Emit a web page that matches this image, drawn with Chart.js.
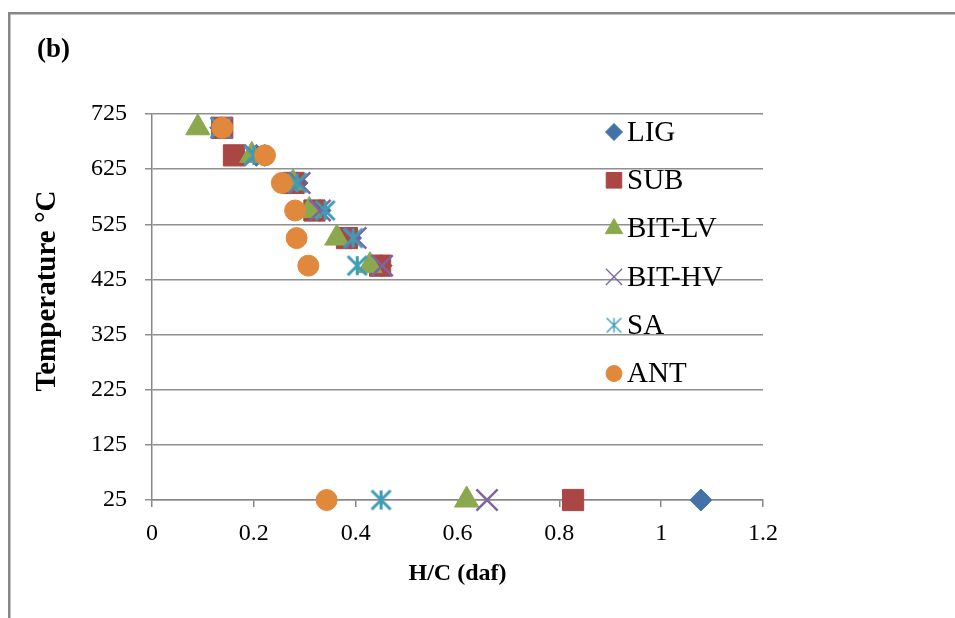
<!DOCTYPE html>
<html>
<head>
<meta charset="utf-8">
<script src="https://cdn.jsdelivr.net/npm/chart.js@4/dist/chart.umd.min.js"></script>
<style>
    body { margin: 0; background: #fff; }
    #wrap { width: 955px; height: 618px; }
</style>
</head>
<body>
<div id="wrap"><canvas id="myChart" width="955" height="618"></canvas></div>
<script>
// temperatures (ºC) shared by every sample
const Temps = [700, 650, 600, 550, 500, 450, 25];

// H/C (daf) per sample at each temperature
const LIG = [0.135, 0.205, 0.285, 0.33, 0.39, 0.45, 1.078];
const SUB = [0.138, 0.161, 0.278, 0.319, 0.383, 0.448, 0.827];
const BIT_LV = [0.09, 0.196, 0.277, 0.309, 0.363, 0.428, 0.618];
const BIT_HV = [0.136, 0.202, 0.29, 0.33, 0.40, 0.452, 0.658];
const SA = [0.135, 0.20, 0.285, 0.34, 0.395, 0.403, 0.45];
const ANT = [0.138, 0.222, 0.255, 0.281, 0.284, 0.307, 0.343];

const Labels = ['LIG', 'SUB', 'BIT-LV', 'BIT-HV', 'SA', 'ANT'];
const YTicks = [25, 125, 225, 325, 425, 525, 625, 725];

const FONT = "'Liberation Serif', 'Times New Roman', serif";

// asterisk marker: vertical stroke plus an X
function asterisk(size, lw, color) {
    const c = document.createElement('canvas');
    c.width = size; c.height = size;
    const g = c.getContext('2d');
    const m = lw / 2 + 0.5;
    g.strokeStyle = color;
    g.lineWidth = lw;
    g.beginPath();
    g.moveTo(size / 2, m); g.lineTo(size / 2, size - m);
    g.moveTo(m, m); g.lineTo(size - m, size - m);
    g.moveTo(size - m, m); g.lineTo(m, size - m);
    g.stroke();
    return c;
}

const colors = ['#4472a8', '#aa4644', '#8ba84f', '#7e65a0', '#3e9cb6', '#e0883c'];
const series = [LIG, SUB, BIT_LV, BIT_HV, SA, ANT];
const styles = [
    { pointStyle: 'rectRot', pointRadius: 11, borderWidth: 1 },
    { pointStyle: 'rect', pointRadius: 15, borderWidth: 1 },
    { pointStyle: 'triangle', pointRadius: 14, borderWidth: 1 },
    { pointStyle: 'crossRot', pointRadius: 15, borderWidth: 2.5 },
    { pointStyle: asterisk(23, 3, colors[4]), pointRadius: 11, borderWidth: 3 },
    { pointStyle: 'circle', pointRadius: 10.5, borderWidth: 1 }
];
// smaller markers for the key
const keyStyles = [
    { pointStyle: 'rectRot', radius: 8.5, borderWidth: 1 },
    { pointStyle: 'rect', radius: 11, borderWidth: 1 },
    { pointStyle: 'triangle', radius: 10, borderWidth: 1 },
    { pointStyle: 'crossRot', radius: 11.5, borderWidth: 1.3 },
    { pointStyle: asterisk(17, 1.4, colors[4]), radius: 8, borderWidth: 1 },
    { pointStyle: 'circle', radius: 8, borderWidth: 1 }
];

const datasets = Labels.map((name, i) => ({
    label: name,
    data: series[i].map((v, j) => ({ x: v, y: Temps[j] })),
    backgroundColor: colors[i],
    borderColor: colors[i],
    pointStyle: styles[i].pointStyle,
    pointRadius: styles[i].pointRadius,
    pointHoverRadius: styles[i].pointRadius,
    pointBorderWidth: styles[i].borderWidth,
    clip: false,
    order: Labels.length - i
}));

// frame, panel letter, y title and the key inside the plot
const decor = {
    id: 'decor',
    beforeDraw(chart) {
        const ctx = chart.ctx;
        ctx.save();
        ctx.fillStyle = '#878787';
        ctx.fillRect(8, 12, 947, 2.5);
        ctx.fillRect(8, 12, 2.5, 606);
        ctx.fillStyle = '#000';
        ctx.font = 'bold 27px ' + FONT;
        ctx.textBaseline = 'middle';
        ctx.fillText('(b)', 37, 50);
        ctx.translate(48, 291);
        ctx.rotate(-Math.PI / 2);
        ctx.textAlign = 'center';
        ctx.font = 'bold 29px ' + FONT;
        ctx.fillText('Temperature °C', 0, 0);
        ctx.restore();
    },
    afterDraw(chart) {
        const ctx = chart.ctx;
        ctx.save();
        chart.data.datasets.forEach((ds, i) => {
            const y = 132 + i * 48.3;
            ctx.fillStyle = ds.backgroundColor;
            ctx.strokeStyle = ds.borderColor;
            ctx.lineWidth = keyStyles[i].borderWidth;
            Chart.helpers.drawPoint(ctx, {
                pointStyle: keyStyles[i].pointStyle,
                radius: keyStyles[i].radius,
                rotation: 0,
                borderWidth: keyStyles[i].borderWidth
            }, 614, y);
            ctx.fillStyle = '#000';
            ctx.font = '29px ' + FONT;
            ctx.textBaseline = 'middle';
            ctx.fillText(ds.label, 627, y + 1);
        });
        ctx.restore();
    }
};

const ctx = document.getElementById('myChart').getContext('2d');
const myChart = new Chart(ctx, {
    type: 'scatter',
    data: { datasets: datasets },
    options: {
        responsive: false,
        animation: false,
        events: [],
        layout: { padding: { left: 0, top: 114, right: 192, bottom: 0 } },
        plugins: {
            legend: { display: false },
            tooltip: { enabled: false }
        },
        scales: {
            x: {
                type: 'linear',
                min: 0,
                max: 1.2,
                afterFit(s) { s.height = 118; s.paddingLeft = 0; s.paddingRight = 0; },
                ticks: {
                    stepSize: 0.2,
                    padding: 12,
                    color: '#000',
                    font: { family: FONT, size: 24 },
                    callback: v => String(Math.round(v * 10) / 10)
                },
                grid: { drawOnChartArea: false, drawTicks: true, tickLength: 7, color: '#878787', lineWidth: 1.5 },
                border: { display: true, color: '#878787', width: 1.5 },
                title: {
                    display: true,
                    text: 'H/C (daf)',
                    color: '#000',
                    font: { family: FONT, size: 24, weight: 'bold' },
                    padding: { top: 0, bottom: 30 }
                }
            },
            y: {
                type: 'linear',
                min: 25,
                max: 725,
                afterFit(s) { s.width = 152; s.paddingTop = 0; s.paddingBottom = 0; },
                afterBuildTicks(s) { s.ticks = YTicks.map(v => ({ value: v })); },
                ticks: {
                    padding: 18,
                    color: '#000',
                    font: { family: FONT, size: 24 }
                },
                grid: { drawTicks: true, tickLength: 7, color: '#8f8f8f', lineWidth: 1.5 },
                border: { display: true, color: '#878787', width: 1.5 },
                title: { display: false }
            }
        }
    },
    plugins: [decor]
});
</script>
</body>
</html>
